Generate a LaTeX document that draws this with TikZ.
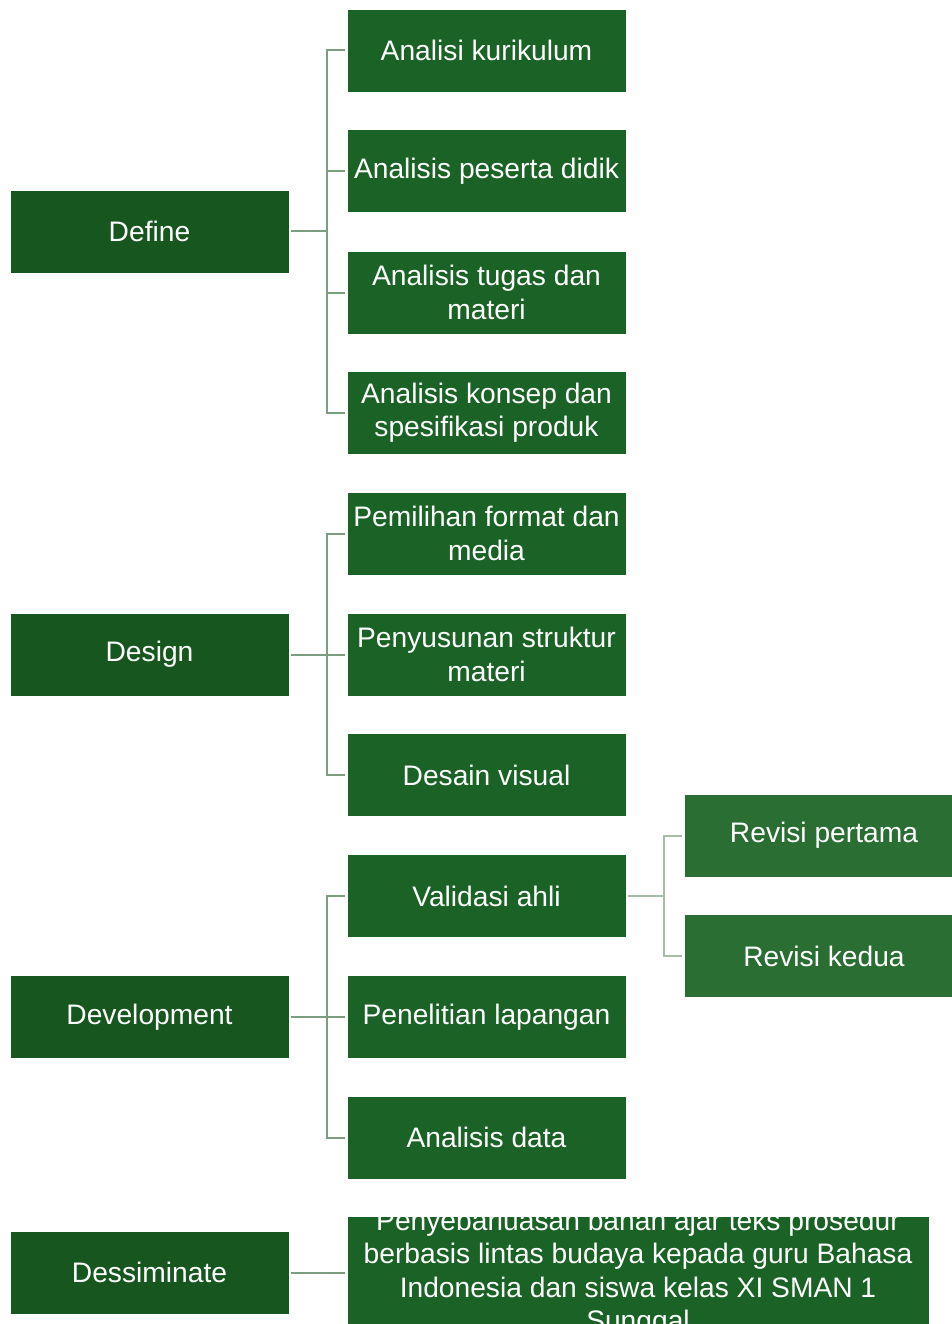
\documentclass[tikz,border=0pt]{standalone}
\usepackage{fontspec}
\setmainfont{Liberation Sans}
\definecolor{cone}{HTML}{17571F}
\definecolor{ctwo}{HTML}{1B6226}
\definecolor{cthree}{HTML}{2A6E33}
\definecolor{lnone}{HTML}{7A9E7F}
\definecolor{lntwo}{HTML}{A7BBA9}
\begin{document}
\begin{tikzpicture}[x=1pt,y=-1pt,
  box/.style={draw=white, line width=0.8pt, minimum width=279pt, minimum height=83pt,
    text=white, font=\fontsize{28.2}{33.5}\selectfont, align=center, inner sep=0pt},
  lvone/.style={box, fill=cone},
  lvtwo/.style={box, fill=ctwo},
  lvthree/.style={box, fill=cthree},
  conn/.style={draw=lnone, line width=2pt},
  conntwo/.style={draw=lntwo, line width=2pt}]
\useasboundingbox (0,0) rectangle (951,1324);
\fill[white] (0,0) rectangle (951,1324);
% level one
\node[lvone] (define) at (149.5,231.5) {Define};
\node[lvone] (design) at (149.5,654.5) {Design};
\node[lvone] (devel) at (149.5,1017) {Development};
\node[lvone] (dissem) at (149.5,1272.5) {Dessiminate};
% level two
\node[lvtwo] (a1) at (486.5,50.5) {Analisi kurikulum};
\node[lvtwo] (a2) at (486.5,171) {Analisis peserta didik};
\node[lvtwo] (a3) at (486.5,292.5) {Analisis tugas dan\\materi};
\node[lvtwo] (a4) at (486.5,412.5) {Analisis konsep dan\\spesifikasi produk};
\node[lvtwo] (b1) at (486.5,533.5) {Pemilihan format dan\\media};
\node[lvtwo] (b2) at (486.5,654.5) {Penyusunan struktur\\materi};
\node[lvtwo] (b3) at (486.5,775) {Desain visual};
\node[lvtwo] (c1) at (486.5,896) {Validasi ahli};
\node[lvtwo] (c2) at (486.5,1017) {Penelitian lapangan};
\node[lvtwo] (c3) at (486.5,1137.5) {Analisis data};
\begin{scope}
\clip (347,1217) rectangle (929,1330);
\node[lvtwo, minimum width=582pt, minimum height=112pt] (d1) at (638,1273)
  {Penyebarluasan bahan ajar teks prosedur\\berbasis lintas budaya kepada guru Bahasa\\Indonesia dan siswa kelas XI SMAN 1\\Sunggal};
\end{scope}
% level three
\node[lvthree] (r1) at (824,835.5) {Revisi pertama};
\node[lvthree] (r2) at (824,956) {Revisi kedua};
% connectors
\foreach \c in {a1,a2,a3,a4}
  \draw[conn] ([xshift=2pt]define.east) -- ++(36,0) |- ([xshift=-2pt]\c.west);
\foreach \c in {b1,b2,b3}
  \draw[conn] ([xshift=2pt]design.east) -- ++(36,0) |- ([xshift=-2pt]\c.west);
\foreach \c in {c1,c2,c3}
  \draw[conn] ([xshift=2pt]devel.east) -- ++(36,0) |- ([xshift=-2pt]\c.west);
\draw[conn] ([xshift=2pt]dissem.east) -- ([xshift=-2pt]d1.west |- dissem.east);
\foreach \c in {r1,r2}
  \draw[conntwo] ([xshift=2pt]c1.east) -- ++(36,0) |- ([xshift=-2pt]\c.west);
\end{tikzpicture}
\end{document}
